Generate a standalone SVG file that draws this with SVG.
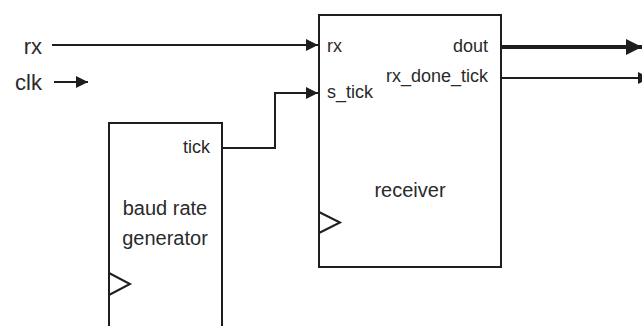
<svg xmlns="http://www.w3.org/2000/svg" width="642" height="326" viewBox="0 0 642 326">
<defs>
<style>
.box{fill:#fff;stroke:#1e1e1e;stroke-width:2}
.w{fill:none;stroke:#1e1e1e;stroke-width:2}
.t{font-family:"Liberation Sans",Arial,sans-serif;fill:#2a2a2a}
.clkt{fill:none;stroke:#1e1e1e;stroke-width:2}
</style>
<marker id="ah" viewBox="0 0 10 10" refX="10" refY="5" markerWidth="7" markerHeight="6" markerUnits="strokeWidth" orient="auto">
<path d="M0,0 L10,5 L0,10 z" fill="#1e1e1e"/>
</marker>
<marker id="ahb" viewBox="0 0 10 10" refX="10" refY="5" markerWidth="4" markerHeight="4" markerUnits="strokeWidth" orient="auto">
<path d="M0,0 L10,5 L0,10 z" fill="#1e1e1e"/>
</marker>
</defs>
<rect width="642" height="326" fill="#fff"/>
<g id="inputs">
<text class="t" x="42" y="54" font-size="22" text-anchor="end">rx</text>
<text class="t" x="42" y="90" font-size="22" text-anchor="end">clk</text>
</g>
<g id="connectors">
<line class="w" x1="52" y1="45" x2="318" y2="45" marker-end="url(#ah)"/>
<line class="w" x1="54" y1="82" x2="88" y2="82" marker-end="url(#ah)"/>
<polyline class="w" points="222,148 275,148 275,93 318,93" marker-end="url(#ah)"/>
<line x1="501" y1="47" x2="642" y2="47" stroke="#1e1e1e" stroke-width="4" marker-end="url(#ahb)"/>
<line class="w" x1="501" y1="78" x2="650" y2="78" marker-end="url(#ah)"/>
</g>
<g id="receiver">
<rect class="box" x="319" y="15" width="182" height="252"/>
<polyline class="clkt" points="319,212 340,222.5 319,233"/>
<text class="t" x="327" y="52" font-size="18">rx</text>
<text class="t" x="327" y="98" font-size="18">s_tick</text>
<text class="t" x="488" y="52" font-size="18" text-anchor="end">dout</text>
<text class="t" x="488" y="82" font-size="18" text-anchor="end">rx_done_tick</text>
<text class="t" x="410" y="197" font-size="20" text-anchor="middle">receiver</text>
</g>
<g id="baud_rate_generator">
<rect class="box" x="109" y="123" width="113" height="220"/>
<polyline class="clkt" points="109,273 130,284 109,295"/>
<text class="t" x="210" y="153" font-size="18" text-anchor="end">tick</text>
<text class="t" x="165" y="215" font-size="20" text-anchor="middle">baud rate</text>
<text class="t" x="165" y="245" font-size="20" text-anchor="middle">generator</text>
</g>
</svg>
